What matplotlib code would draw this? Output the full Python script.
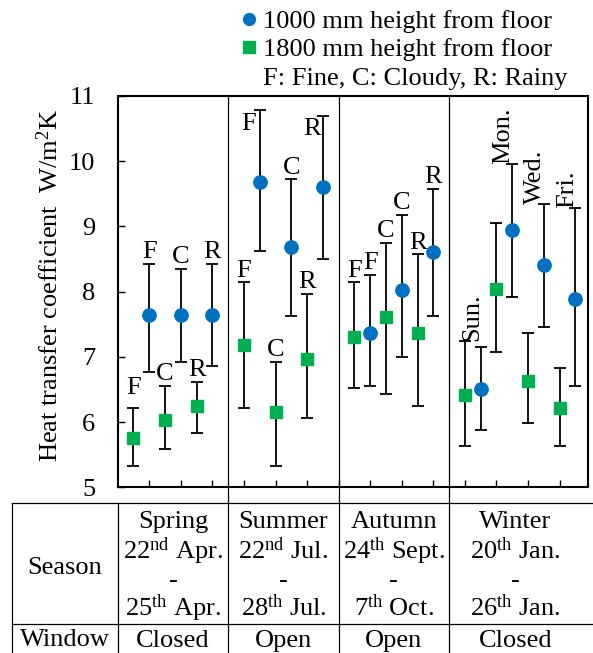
import matplotlib
matplotlib.use('Agg')
import matplotlib.pyplot as plt
import matplotlib.transforms as mtransforms
from matplotlib.lines import Line2D

plt.rcParams['font.family'] = ['Liberation Serif', 'DejaVu Serif']
plt.rcParams['mathtext.fontset'] = 'custom'
plt.rcParams['mathtext.rm'] = 'Liberation Serif'
plt.rcParams['mathtext.it'] = 'Liberation Serif:italic'
plt.rcParams['font.size'] = 19

# data
seasons = ['Spring', 'Summer', 'Autumn', 'Winter']
days = [['F', 'C', 'R'], ['F', 'C', 'R'], ['F', 'C', 'R'],
        ['Sun.', 'Mon.', 'Wed.', 'Fri.']]
date_from = [r'22$^{\mathrm{nd}}$ Apr.', r'22$^{\mathrm{nd}}$ Jul.',
             r'24$^{\mathrm{th}}$ Sept.', r'20$^{\mathrm{th}}$ Jan.']
date_to = [r'25$^{\mathrm{th}}$ Apr.', r'28$^{\mathrm{th}}$ Jul.',
           r'7$^{\mathrm{th}}$ Oct.', r'26$^{\mathrm{th}}$ Jan.']
window = ['Closed', 'Open', 'Open', 'Closed']

h1000_mean = [[7.64, 7.64, 7.64], [9.68, 8.68, 9.60], [7.36, 8.03, 8.61],
              [6.51, 8.95, 8.41, 7.89]]
h1000_low = [[6.76, 6.92, 6.86], [8.63, 7.62, 8.50], [6.56, 6.99, 7.62],
             [5.88, 7.92, 7.46, 6.56]]
h1000_high = [[8.42, 8.35, 8.42], [10.79, 9.72, 10.70], [8.25, 9.17, 9.57],
              [7.15, 9.96, 9.35, 9.29]]
h1800_mean = [[5.75, 6.03, 6.24], [7.18, 6.15, 6.97], [7.31, 7.61, 7.36],
              [6.42, 8.04, 6.63, 6.21]]
h1800_low = [[5.33, 5.58, 5.83], [6.21, 5.33, 6.06], [6.52, 6.43, 6.25],
             [5.64, 7.07, 5.98, 5.64]]
h1800_high = [[6.21, 6.56, 6.61], [8.14, 6.92, 7.96], [8.14, 8.74, 8.57],
              [7.25, 9.05, 7.37, 6.83]]

blue = '#0070C0'
green = '#00B050'

# label nudges in points (season, series, index) -> (dx, dy)
nudge = {(0, 'g', 0): (0, 15), (1, 'b', 0): (-8, -10), (1, 'b', 2): (-8, -9.5)}

fig = plt.figure(figsize=(5.93, 6.53), dpi=100)
ax = fig.add_axes([0.1985, 0.2538, 0.7931, 0.5992])

bounds = [0]
pos = 1
for s in range(len(seasons)):
    xs_g, xs_b = [], []
    for i in range(len(days[s])):
        xs_g.append(pos)
        xs_b.append(pos + 1)
        pos += 2
    bounds.append(pos)
    pos += 1

    lo_g = [m - l for m, l in zip(h1800_mean[s], h1800_low[s])]
    hi_g = [h - m for m, h in zip(h1800_mean[s], h1800_high[s])]
    lo_b = [m - l for m, l in zip(h1000_mean[s], h1000_low[s])]
    hi_b = [h - m for m, h in zip(h1000_mean[s], h1000_high[s])]
    ax.errorbar(xs_g, h1800_mean[s], yerr=[lo_g, hi_g], fmt='s', color=green,
                ms=9, ecolor='black', elinewidth=1.3, capsize=4.6,
                capthick=1.3, zorder=3)
    ax.errorbar(xs_b, h1000_mean[s], yerr=[lo_b, hi_b], fmt='o', color=blue,
                ms=9.6, ecolor='black', elinewidth=1.3, capsize=4.6,
                capthick=1.3, zorder=3)

    if s < 3:
        for i, d in enumerate(days[s]):
            for key, x, top in (('g', xs_g[i], h1800_high[s][i]),
                                ('b', xs_b[i], h1000_high[s][i])):
                dx, dy = nudge.get((s, key, i), (0, 8.6))
                ax.annotate(d, (x, top), xytext=(dx, dy),
                            textcoords='offset points', ha='center',
                            va='center', fontsize=19)
    else:
        for i, d in enumerate(days[s]):
            top = max(h1800_high[s][i], h1000_high[s][i])
            ax.annotate(d, ((xs_g[i] + xs_b[i]) / 2, top), xytext=(-0.5, 0),
                        textcoords='offset points', ha='center', va='bottom',
                        rotation=90, fontsize=19)

ax.set_xlim(0, 29.8)
ax.set_ylim(5, 11)
ax.set_yticks(range(5, 12))
ax.set_xticks(range(2, 29, 2))
ax.set_xticklabels([])
ax.tick_params(axis='y', direction='in', length=5, width=1, pad=16,
               labelsize=19)
ax.tick_params(axis='x', direction='in', length=5, width=1)
for sp in ax.spines.values():
    sp.set_linewidth(1.5)
ax.set_ylabel(r'Heat transfer coefficient  W/m$^{2}$K', fontsize=19)
ax.yaxis.set_label_coords(-0.116, 0.515)

# season separators running down through the table
trans = mtransforms.blended_transform_factory(ax.transData, fig.transFigure)
for b in bounds[1:-1]:
    ax.add_line(Line2D([b, b], [0.853, 0], transform=trans, color='black',
                       lw=0.9, clip_on=False))
ax.add_line(Line2D([0, 0], [0.2292, 0], transform=trans, color='black',
                   lw=0.9, clip_on=False))

# table
for y in (0.2292, 0.0444):
    fig.add_artist(Line2D([0.0197, 1.0], [y, y], transform=fig.transFigure,
                          color='black', lw=0.9))
fig.add_artist(Line2D([0.0197, 0.0197], [0.2292, 0], transform=fig.transFigure,
                      color='black', lw=0.9))
fig.text(0.1096, 0.1302, 'Season', ha='center', va='center')
fig.text(0.1096, 0.0199, 'Window', ha='center', va='center')
centers = [(bounds[k] + bounds[k + 1]) / 2 for k in range(3)]
centers.append(bounds[3] + 4.2)
for k in range(len(seasons)):
    c = centers[k]
    ax.text(c, 0.2010, seasons[k], transform=trans, ha='center', va='center')
    ax.text(c, 0.1560, date_from[k], transform=trans, ha='center', va='center')
    ax.text(c, 0.1105, '-', transform=trans, ha='center', va='center')
    ax.text(c, 0.0690, date_to[k], transform=trans, ha='center', va='center')
    ax.text(c, 0.0180, window[k], transform=trans, ha='center', va='center')

# legend
handles = [Line2D([], [], ls='none', marker='o', color=blue, ms=8.5),
           Line2D([], [], ls='none', marker='s', color=green, ms=8.5),
           Line2D([], [], ls='none')]
labels = ['1000 mm height from floor', '1800 mm height from floor',
          'F: Fine, C: Cloudy, R: Rainy']
fig.legend(handles, labels, loc='upper left', bbox_to_anchor=(0.4094, 0.985),
           frameon=False, borderpad=0, borderaxespad=0, handlelength=0.5,
           handletextpad=0.26, labelspacing=0.18, fontsize=19)

fig.savefig('out.png', dpi=100)
